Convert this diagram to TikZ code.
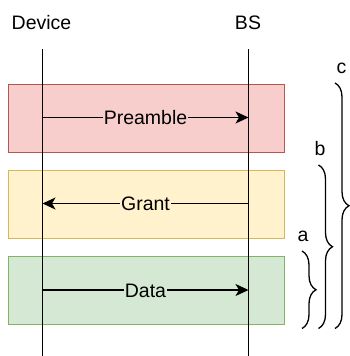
\documentclass[tikz,border=0pt]{standalone}
\usepackage{fontspec}
\setmainfont{Liberation Sans}
\usetikzlibrary{arrows.meta,decorations.pathreplacing}
\definecolor{redfill}{HTML}{F8CECC}
\definecolor{redline}{HTML}{B85450}
\definecolor{yellowfill}{HTML}{FFF2CC}
\definecolor{yellowline}{HTML}{D6B656}
\definecolor{greenfill}{HTML}{D5E8D4}
\definecolor{greenline}{HTML}{82B366}
\begin{document}
\begin{tikzpicture}[x=1pt,y=-1pt,
  every node/.style={font=\fontsize{19.5}{22}\selectfont, inner sep=0pt},
  phase/.style={draw=#1line, fill=#1fill, line width=1pt, minimum width=276pt, minimum height=68pt, anchor=north west},
  lifeline/.style={draw=black, line width=1.3pt},
  msg/.style={draw=black, line width=1.3pt, -{Stealth[length=13pt,width=12pt,inset=3.5pt]}},
  msglabel/.style={fill=#1fill, inner xsep=1pt, inner ysep=2pt, text height=14pt, text depth=0pt},
  curly/.style={draw=black, line width=1.3pt, decorate, decoration={brace, amplitude=14pt}}
]
\useasboundingbox (0,0) rectangle (350,356);
% phase boxes
\node[phase=red] (pre) at (8,83.5) {};
\node[phase=yellow] (gra) at (8,169.5) {};
\node[phase=green] (dat) at (8,256) {};
% participants
\node[anchor=base] (dev) at (41.5,29) {Device};
\node[anchor=base] (bs) at (248,29) {BS};
\coordinate (devtop) at (42.5,49);
\coordinate (devbot) at (42.5,356);
\coordinate (bstop) at (248.5,49);
\coordinate (bsbot) at (248.5,356);
\draw[lifeline] (devtop) -- (devbot);
\draw[lifeline] (bstop) -- (bsbot);
% messages
\coordinate (d1) at (42.5,117.5);
\coordinate (b1) at (248.5,117.5);
\coordinate (d2) at (42.5,203.5);
\coordinate (b2) at (248.5,203.5);
\coordinate (d3) at (42.5,290);
\coordinate (b3) at (248.5,290);
\draw[msg] (d1) -- node[msglabel=red] (lpre) {Preamble} (b1);
\draw[msg] (b2) -- node[msglabel=yellow] (lgra) {Grant} (d2);
\draw[msg] (d3) -- node[msglabel=green] (ldat) {Data} (b3);
% braces
\coordinate (atop) at (302,251);
\coordinate (abot) at (302,328.5);
\coordinate (btop) at (318.5,165);
\coordinate (bbot) at (318.5,328.5);
\coordinate (ctop) at (335,83);
\coordinate (cbot) at (335,328.5);
\draw[curly] (atop) -- (abot);
\draw[curly] (btop) -- (bbot);
\draw[curly] (ctop) -- (cbot);
\node[anchor=base] (la) at (303,241) {a};
\node[anchor=base] (lb) at (320,155) {b};
\node[anchor=base] (lc) at (341.5,73.5) {c};
\end{tikzpicture}
\end{document}
